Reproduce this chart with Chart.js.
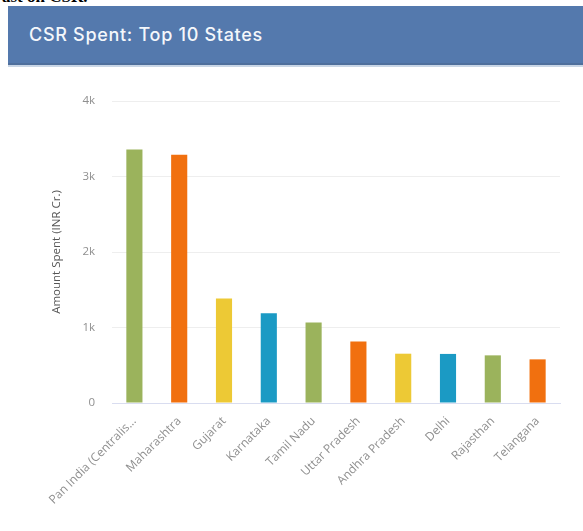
<!DOCTYPE html>
<html>
<head>
<meta charset="utf-8">
<script src="https://cdn.jsdelivr.net/npm/chart.js@4.4.0/dist/chart.umd.min.js"></script>
<style>
  html, body { margin: 0; padding: 0; background: #fff; width: 583px; height: 531px; overflow: hidden; position: relative; }
  #cut { position: absolute; left: 2px; top: -13px; font: bold 17px "Liberation Serif", serif; color: #000; white-space: nowrap; }
  #hdr { position: absolute; left: 8px; top: 6px; width: 575px; height: 57px; background: #5479ad;
         border-bottom: 2px solid #4f6f9c; box-shadow: 0 2px 0 #c9d6e6; }
  #hdr span { position: absolute; left: 21px; top: 18px; font: 500 18px "Inter", "Noto Sans", sans-serif; color: #f4f7fb; letter-spacing: 0.7px; }
  #wrap { position: absolute; left: 8px; top: 66px; width: 575px; height: 465px; }
</style>
</head>
<body>
<div id="cut">ast on CSR.</div>
<div id="hdr"><span>CSR Spent: Top 10 States</span></div>
<div id="wrap"><canvas id="c" width="575" height="465"></canvas></div>
<script>
const categories = ["Pan India (Centralis...", "Maharashtra", "Gujarat", "Karnataka", "Tamil Nadu", "Uttar Pradesh", "Andhra Pradesh", "Delhi", "Rajasthan", "Telangana"];
const amountSpent = [3357, 3287, 1384, 1189, 1065, 813, 653, 650, 631, 578];
const barColors = ["#9bb35c", "#f1700f", "#edc935", "#1b9ac4", "#9bb35c", "#f1700f", "#edc935", "#1b9ac4", "#9bb35c", "#f1700f"];
const yTickLabels = {0: "0", 1000: "1k", 2000: "2k", 3000: "3k", 4000: "4k"};

new Chart(document.getElementById("c"), {
  type: "bar",
  data: {
    labels: categories,
    datasets: [{
      data: amountSpent,
      backgroundColor: barColors,
      borderWidth: 0,
      barPercentage: 0.36,
      categoryPercentage: 1.0
    }]
  },
  options: {
    responsive: false,
    animation: false,
    layout: { padding: { left: 38, right: 23, top: 35, bottom: 0 } },
    plugins: { legend: { display: false }, tooltip: { enabled: false } },
    scales: {
      x: {
        grid: { display: false },
        border: { display: true, color: "#d9ddf0", width: 1 },
        ticks: {
          autoSkip: false, maxRotation: 45, minRotation: 45,
          color: "#8f8f8f", font: { family: "Open Sans", size: 12 }, padding: 3
        },
        afterFit: (s) => { s.height = 128; }
      },
      y: {
        min: 0, max: 4000,
        grid: { color: "#eeeeee", drawTicks: false },
        border: { display: false },
        ticks: {
          stepSize: 1000, padding: 17, color: "#8f8f8f",
          font: { family: "Open Sans", size: 11.5 },
          callback: (v) => yTickLabels[v] !== undefined ? yTickLabels[v] : ""
        },
        title: { display: true, text: "Amount Spent (INR Cr.)", color: "#555", font: { family: "Open Sans", size: 11.5 } },
        afterFit: (s) => { s.width = 66; }
      }
    }
  }
});
</script>
</body>
</html>
